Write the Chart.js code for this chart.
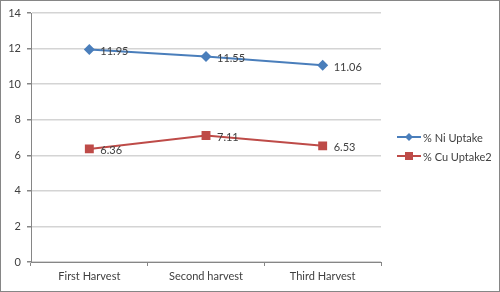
<!DOCTYPE html>
<html>
<head>
<meta charset="utf-8">
<script src="https://cdn.jsdelivr.net/npm/chart.js@4"></script>
<style>
  html, body { margin: 0; padding: 0; background: #fff; }
  #wrap { width: 500px; height: 292px; }
</style>
</head>
<body>
<div id="wrap"><canvas id="myChart" width="500" height="292"></canvas></div>
<script>
var categories = ['First Harvest', 'Second harvest', 'Third Harvest'];
var niUptake = [11.95, 11.55, 11.06];
var cuUptake = [6.36, 7.11, 6.53];
var seriesNames = ['% Ni Uptake', '% Cu Uptake2'];
var yTicks = [0, 2, 4, 6, 8, 10, 12, 14];

var FONT = 'Lato, "Open Sans", sans-serif';
var TEXT = '#404040';

// value labels to the right of each point
var valueLabels = {
  id: 'valueLabels',
  afterDatasetsDraw: function (chart) {
    var ctx = chart.ctx;
    ctx.save();
    ctx.font = '11px ' + FONT;
    ctx.fillStyle = TEXT;
    ctx.textAlign = 'left';
    ctx.textBaseline = 'middle';
    chart.data.datasets.forEach(function (ds, i) {
      chart.getDatasetMeta(i).data.forEach(function (pt, j) {
        ctx.fillText(ds.data[j].toFixed(2), pt.x + 11, pt.y + 2);
      });
    });
    ctx.restore();
  }
};

// legend with line + marker, and the outer frame
var sideLegend = {
  id: 'sideLegend',
  afterDraw: function (chart) {
    var ctx = chart.ctx;
    ctx.save();
    var x0 = 397, ys = [137, 156];
    chart.data.datasets.forEach(function (ds, i) {
      var y = ys[i];
      ctx.strokeStyle = ds.borderColor;
      ctx.lineWidth = 2;
      ctx.beginPath();
      ctx.moveTo(x0, y);
      ctx.lineTo(x0 + 24, y);
      ctx.stroke();
      ctx.fillStyle = ds.backgroundColor;
      if (ds.pointStyle === 'rectRot') {
        ctx.beginPath();
        ctx.moveTo(x0 + 12, y - 4);
        ctx.lineTo(x0 + 16, y);
        ctx.lineTo(x0 + 12, y + 4);
        ctx.lineTo(x0 + 8, y);
        ctx.closePath();
        ctx.fill();
      } else {
        ctx.fillRect(x0 + 8, y - 4, 8, 8);
      }
      ctx.font = '11px ' + FONT;
      ctx.fillStyle = TEXT;
      ctx.textBaseline = 'middle';
      ctx.fillText(ds.label, x0 + 26, y + 1);
    });
    ctx.strokeStyle = '#868686';
    ctx.lineWidth = 1;
    ctx.strokeRect(0.5, 0.5, chart.width - 1, chart.height - 1);
    ctx.restore();
  }
};

var ctx = document.getElementById('myChart').getContext('2d');
var myChart = new Chart(ctx, {
  type: 'line',
  data: {
    labels: categories,
    datasets: [{
      label: seriesNames[0],
      data: niUptake,
      borderColor: '#4a7ebb',
      backgroundColor: '#4a7ebb',
      borderWidth: 2,
      pointStyle: 'rectRot',
      pointRadius: 5.5,
      pointBorderWidth: 0,
      tension: 0
    }, {
      label: seriesNames[1],
      data: cuUptake,
      borderColor: '#be4b48',
      backgroundColor: '#be4b48',
      borderWidth: 2,
      pointStyle: 'rect',
      pointRadius: 6.3,
      pointBorderWidth: 0,
      tension: 0
    }]
  },
  options: {
    responsive: false,
    animation: false,
    layout: { padding: { left: 0, top: 13, right: 119, bottom: 0 } },
    plugins: {
      legend: { display: false },
      tooltip: { enabled: false }
    },
    scales: {
      x: {
        offset: true,
        grid: { display: true, drawOnChartArea: false, offset: true, color: '#868686', tickLength: 4 },
        border: { color: '#868686' },
        ticks: { color: TEXT, font: { family: FONT, size: 11 }, padding: 4, maxRotation: 0 },
        afterFit: function (s) { s.height = 30; }
      },
      y: {
        min: 0,
        max: 14,
        afterBuildTicks: function (s) { s.ticks = yTicks.map(function (v) { return { value: v }; }); },
        grid: { color: '#d4d4d4', lineWidth: 1.5, tickLength: 4, tickColor: '#868686' },
        border: { color: '#868686' },
        ticks: { color: TEXT, font: { family: FONT, size: 11 }, padding: 6 },
        afterFit: function (s) { s.width = 31; }
      }
    }
  },
  plugins: [valueLabels, sideLegend]
});
</script>
</body>
</html>
